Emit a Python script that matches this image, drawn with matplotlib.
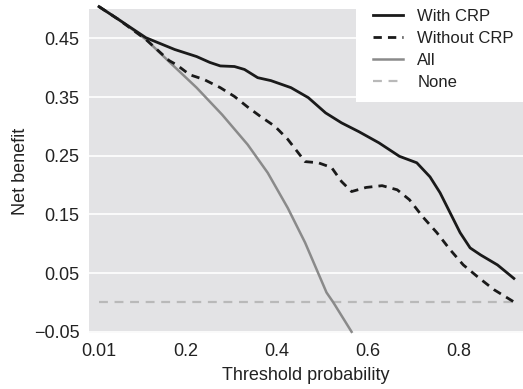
import matplotlib
matplotlib.use("Agg")
import matplotlib.pyplot as plt
from matplotlib.patches import Rectangle

plt.rcParams['font.family'] = ['Liberation Sans', 'DejaVu Sans']

# Data (threshold probability vs net benefit)
with_crp_x = [0.01, 0.053, 0.113, 0.176, 0.224, 0.253, 0.276, 0.307, 0.329, 0.358,
              0.387, 0.431, 0.469, 0.507, 0.542, 0.580, 0.624, 0.669, 0.707, 0.736,
              0.758, 0.780, 0.802, 0.824, 0.847, 0.884, 0.920]
with_crp_y = [0.504, 0.482, 0.451, 0.431, 0.419, 0.409, 0.403, 0.402, 0.397, 0.383,
              0.378, 0.366, 0.349, 0.323, 0.306, 0.291, 0.272, 0.249, 0.238, 0.214,
              0.187, 0.153, 0.119, 0.093, 0.081, 0.064, 0.041]

without_crp_x = [0.01, 0.053, 0.113, 0.164, 0.180, 0.209, 0.240, 0.276, 0.307, 0.336,
                 0.364, 0.396, 0.424, 0.447, 0.462, 0.491, 0.520, 0.542, 0.564, 0.596,
                 0.631, 0.664, 0.691, 0.720, 0.751, 0.780, 0.809, 0.840, 0.876, 0.920]
without_crp_y = [0.504, 0.482, 0.448, 0.412, 0.405, 0.388, 0.380, 0.366, 0.351, 0.333,
                 0.317, 0.300, 0.278, 0.255, 0.240, 0.238, 0.230, 0.206, 0.189, 0.196,
                 0.199, 0.192, 0.175, 0.146, 0.119, 0.090, 0.064, 0.044, 0.022, 0.001]

all_x = [0.01, 0.054, 0.113, 0.164, 0.224, 0.280, 0.336, 0.380, 0.424, 0.462, 0.509, 0.524, 0.564]
all_y = [0.504, 0.482, 0.448, 0.410, 0.366, 0.320, 0.269, 0.221, 0.161, 0.102, 0.017, 0.000, -0.050]

none_x = [0.01, 0.92]
none_y = [0.0, 0.0]

xticks = [0.01, 0.2, 0.4, 0.6, 0.8]
xtick_labels = ["0.01", "0.2", "0.4", "0.6", "0.8"]
yticks = [-0.05, 0.05, 0.15, 0.25, 0.35, 0.45]
ytick_labels = ["\u22120.05", "0.05", "0.15", "0.25", "0.35", "0.45"]

text_color = '#222222'
W, H = 523, 389

fig = plt.figure(figsize=(5.23, 3.89), dpi=100)
ax = fig.add_axes([89/W, 56/H, 434/W, 324/H])
ax.set_facecolor('#e3e3e5')
for s in ax.spines.values():
    s.set_visible(False)

ax.set_xlim(-0.012, 0.940)
ax.set_ylim(-0.052, 0.5)
ax.set_yticks(yticks)
ax.set_yticklabels(ytick_labels)
ax.set_xticks(xticks)
ax.set_xticklabels(xtick_labels)
ax.grid(axis='y', color='white', linewidth=1.2)
ax.grid(axis='x', visible=False)
ax.set_axisbelow(True)
ax.tick_params(length=0, labelsize=13, colors=text_color, pad=7)

kw = dict(solid_joinstyle='round', dash_joinstyle='round', clip_on=False)
ax.plot(none_x, none_y, color='#b9b9b9', lw=1.6, ls=(0, (4, 3)), label='None')
ax.plot(all_x, all_y, color='#8a8a8a', lw=1.8, label='All', **kw)
ax.plot(without_crp_x, without_crp_y, color='#1a1a1a', lw=2.0, ls=(0, (3, 2.2)),
        label='Without CRP', **kw)
ax.plot(with_crp_x, with_crp_y, color='#1a1a1a', lw=2.0, label='With CRP', **kw)

ax.set_xlabel('Threshold probability', fontsize=13, color=text_color, labelpad=5)
ax.set_ylabel('Net benefit', fontsize=13, color=text_color, labelpad=3)

# legend background box
fig.patches.append(Rectangle((356/W, 1 - 102/H), (W - 356)/W, 102/H,
                             transform=fig.transFigure, facecolor='white',
                             edgecolor='none', zorder=5))

handles, labels = ax.get_legend_handles_labels()
order = [3, 2, 1, 0]
leg = fig.legend([handles[i] for i in order], [labels[i] for i in order],
                 loc='upper left', bbox_to_anchor=(373/W, 1 - 9/H), frameon=False,
                 fontsize=12, handlelength=1.8, handletextpad=0.85, labelspacing=0.42,
                 borderpad=0.0, borderaxespad=0.0)
leg.set_zorder(6)
for t in leg.get_texts():
    t.set_color(text_color)

fig.savefig('out.png', dpi=100)
